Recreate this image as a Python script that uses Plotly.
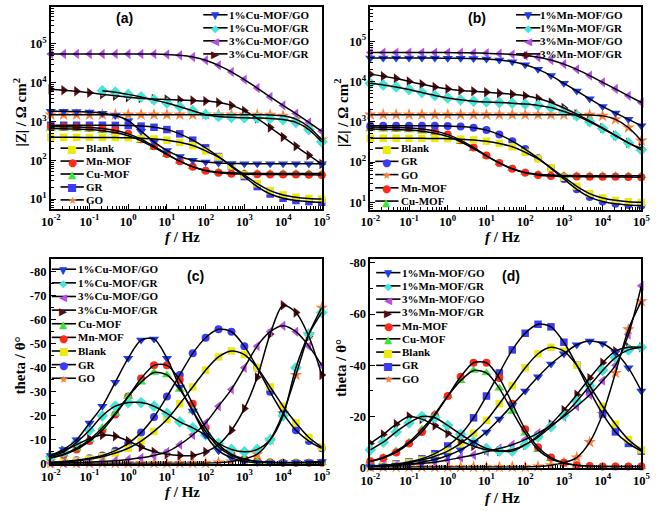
import plotly.graph_objects as go

# ---------------- data ----------------
freq_hz = [0.01, 0.0215, 0.0464, 0.1, 0.215, 0.464, 1, 2.15, 4.64, 10, 21.5, 46.4,
           100, 215, 464, 1000, 2150, 4640, 10000, 21500, 46400, 100000]

# |Z| (ohm cm2) - common samples
z_blank = [390, 390, 390, 389, 388, 385, 380, 370, 355, 330, 290, 240, 175, 120, 72, 42, 25, 16.5, 12.8, 11.2, 10.4, 10]
z_gr = [800, 800, 800, 800, 800, 795, 785, 760, 710, 620, 480, 330, 210, 125, 70, 38, 21, 13.5, 10.5, 9.2, 8.6, 8.3]
z_mn = [740, 735, 725, 700, 660, 590, 480, 350, 230, 145, 95, 68, 54, 48, 45, 44, 43.5, 43, 43, 43, 42.5, 42]
z_cu = [660, 650, 640, 620, 580, 520, 430, 320, 215, 140, 95, 68, 55, 50, 47.5, 46.5, 46, 46, 46, 46, 46, 46]
z_go = [1500, 1500, 1500, 1500, 1500, 1500, 1500, 1500, 1500, 1500, 1500, 1500, 1500, 1500, 1500, 1500, 1495, 1480, 1400, 1150, 720, 340]
# |Z| Cu-MOF composites (a)
z_cu_1go = [1850, 1830, 1800, 1750, 1640, 1420, 1050, 560, 300, 180, 125, 100, 90, 85, 83, 82, 82, 82, 82, 82, 82, 82]
z_cu_1gr = [None, None, None, None, 6200, 5700, 5000, 4300, 3600, 3000, 2400, 1900, 1500, 1350, 1280, 1250, 1230, 1200, 1120, 950, 620, 300]
z_cu_3go = [55000, 55000, 55000, 55000, 55000, 55000, 55000, 55000, 54500, 53500, 51000, 46000, 38000, 28000, 19000, 12000, 7300, 4300, 2600, 1600, 950, 560]
z_cu_3gr = [6800, 6400, 6000, 5500, 5000, 4600, 4200, 4000, 3800, 3700, 3600, 3500, 3350, 3100, 2600, 1900, 1200, 700, 400, 230, 135, 80]
# |Z| Mn-MOF composites (b)
z_mn_1go = [38000, 38000, 38000, 38000, 38000, 38000, 37800, 37500, 37000, 36000, 34000, 31000, 26000, 20000, 14000, 9000, 5800, 3700, 2400, 1650, 1150, 800]
z_mn_1gr = [9000, 8200, 7300, 6300, 5300, 4500, 3900, 3500, 3250, 3100, 3000, 2900, 2750, 2550, 2250, 1800, 1400, 1000, 680, 450, 300, 200]
z_mn_3go = [52000, 52000, 52000, 52000, 52000, 52000, 52000, 51500, 51000, 50000, 49000, 47000, 44000, 40000, 34000, 27000, 20000, 14000, 9500, 6500, 4400, 3000]
z_mn_3gr = [15000, 13500, 11800, 10000, 8500, 7300, 6500, 6000, 5700, 5400, 5100, 4800, 4400, 3800, 3000, 2200, 1550, 1050, 700, 460, 300, 220]

# phase angle (deg)
th_blank = [-0.5, -0.8, -1.2, -2, -3, -4.5, -6.5, -9.5, -13.5, -18.5, -25, -32, -39, -44.5, -47, -45.5, -40, -32, -24, -17, -11, -7]
th_gr = [-0.7, -1, -1.5, -2.3, -3.5, -5.5, -8.5, -13, -19.5, -28, -37, -46, -52.5, -56, -55, -49, -40, -30, -21, -14, -9.5, -6.5]
th_mn = [-2.5, -3.8, -6, -9.5, -14, -20.5, -28, -35.5, -41, -41, -35, -25, -15, -8, -4, -2, -1, -0.7, -0.5, -0.5, -0.5, -0.5]
th_cu = [-2.5, -4, -6.5, -10, -15, -21, -28, -34, -38, -37, -31, -22, -13.5, -7, -3.5, -1.8, -1, -0.7, -0.5, -0.5, -0.5, -0.5]
th_go = [-0.3, -0.3, -0.3, -0.3, -0.3, -0.3, -0.3, -0.3, -0.3, -0.3, -0.3, -0.3, -0.3, -0.5, -1, -2, -4, -10, -21, -37, -54, -65]
th_cu_1go = [-3.5, -6, -10, -17, -24, -34, -44, -51.5, -52, -44, -32, -22, -12, -5.5, -2.5, -1, -0.6, -0.5, -0.5, -0.6, -0.8, -1]
th_cu_1gr = [-3, -5, -9, -14, -20, -24, -25.5, -25.5, -24, -21, -17.5, -15, -12, -8.5, -6, -5, -6, -10, -20, -40, -54, -63]
th_cu_3go = [-0.3, -0.4, -0.5, -0.7, -1, -1.3, -1.8, -2.5, -3.5, -5, -8, -12, -17, -24, -31, -40, -49, -55, -57.5, -55, -49, -41]
th_cu_3gr = [-3.5, -5.5, -8, -10.5, -12, -11.5, -9.5, -7, -5, -4, -3.5, -3.5, -5, -8, -14, -23, -36, -54, -66, -63, -53, -37]
th_mn_1go = [-0.5, -0.7, -1, -1.5, -2.2, -3.2, -4.8, -7, -10, -14, -19, -24.5, -30, -35.5, -40.5, -44.5, -48, -49.5, -48.5, -45, -39, -30]
th_mn_1gr = [-7, -10, -14, -17.5, -20, -19.5, -16.5, -13, -10, -7.5, -6.5, -6.5, -9, -12, -16, -20.5, -26, -32, -38, -43, -46, -47]
th_mn_3go = [-0.5, -0.7, -1, -1.3, -1.7, -2.2, -3, -4, -5, -6.3, -7.5, -9, -11, -13.5, -16.5, -20, -24, -28.5, -34, -40, -52, -71]
th_mn_3gr = [-9.5, -13, -17, -20, -19, -16.5, -13.5, -10.5, -8.5, -7, -6.5, -7, -9, -12.5, -17, -22.5, -28.5, -35, -41, -45.5, -47, -47]

x_tickvals = [0.01, 0.1, 1, 10, 100, 1000, 10000, 100000]
x_ticktext = ["10<sup>-2</sup>", "10<sup>-1</sup>", "10<sup>0</sup>", "10<sup>1</sup>",
              "10<sup>2</sup>", "10<sup>3</sup>", "10<sup>4</sup>", "10<sup>5</sup>"]
z_tickvals = [10, 100, 1000, 10000, 100000]
z_ticktext = ["10<sup>1</sup>", "10<sup>2</sup>", "10<sup>3</sup>", "10<sup>4</sup>", "10<sup>5</sup>"]
thc_tickvals = [-80, -70, -60, -50, -40, -30, -20, -10, 0]
thc_ticktext = ["-80", "-70", "-60", "-50", "-40", "-30", "-20", "-10", "0"]
thd_tickvals = [-80, -60, -40, -20, 0]
thd_ticktext = ["-80", "-60", "-40", "-20", "0"]

# ---------------- styles ----------------
C_1GO = "#1e3cf2"
C_1GR = "#45e6d6"
C_3GO = "#b650e6"
C_3GR = "#5a0a12"
C_MN = "#ff2a1a"
C_CU = "#3ce43c"
C_BLANK = "#eaea10"
C_GR = "#3c3cf8"
C_GO = "#ff8038"

GLYPH = {"triangle-down": "▼", "diamond": "◆", "triangle-left": "◀", "triangle-right": "▶",
         "circle": "●", "triangle-up": "▲", "square": "■", "star": "★"}

W, H = 661, 514
def px(x):
    return x / W
def py(y):
    return 1 - y / H

series = {
    "a": [("1%Cu-MOF/GO", z_cu_1go, "triangle-down", C_1GO),
          ("1%Cu-MOF/GR", z_cu_1gr, "diamond", C_1GR),
          ("3%Cu-MOF/GO", z_cu_3go, "triangle-left", C_3GO),
          ("3%Cu-MOF/GR", z_cu_3gr, "triangle-right", C_3GR),
          ("Blank", z_blank, "square", C_BLANK),
          ("Mn-MOF", z_mn, "circle", C_MN),
          ("Cu-MOF", z_cu, "triangle-up", C_CU),
          ("GR", z_gr, "square", C_GR),
          ("GO", z_go, "star", C_GO)],
    "b": [("1%Mn-MOF/GO", z_mn_1go, "triangle-down", C_1GO),
          ("1%Mn-MOF/GR", z_mn_1gr, "diamond", C_1GR),
          ("3%Mn-MOF/GO", z_mn_3go, "triangle-left", C_3GO),
          ("3%Mn-MOF/GR", z_mn_3gr, "triangle-right", C_3GR),
          ("Blank", z_blank, "square", C_BLANK),
          ("GR", z_gr, "circle", C_GR),
          ("GO", z_go, "star", C_GO),
          ("Mn-MOF", z_mn, "circle", C_MN),
          ("Cu-MOF", z_cu, "triangle-up", C_CU)],
    "c": [("1%Cu-MOF/GO", th_cu_1go, "triangle-down", C_1GO),
          ("1%Cu-MOF/GR", th_cu_1gr, "diamond", C_1GR),
          ("3%Cu-MOF/GO", th_cu_3go, "triangle-left", C_3GO),
          ("3%Cu-MOF/GR", th_cu_3gr, "triangle-right", C_3GR),
          ("Cu-MOF", th_cu, "triangle-up", C_CU),
          ("Mn-MOF", th_mn, "circle", C_MN),
          ("Blank", th_blank, "square", C_BLANK),
          ("GR", th_gr, "circle", C_GR),
          ("GO", th_go, "star", C_GO)],
    "d": [("1%Mn-MOF/GO", th_mn_1go, "triangle-down", C_1GO),
          ("1%Mn-MOF/GR", th_mn_1gr, "diamond", C_1GR),
          ("3%Mn-MOF/GO", th_mn_3go, "triangle-left", C_3GO),
          ("3%Mn-MOF/GR", th_mn_3gr, "triangle-right", C_3GR),
          ("Mn-MOF", th_mn, "circle", C_MN),
          ("Cu-MOF", th_cu, "triangle-up", C_CU),
          ("Blank", th_blank, "square", C_BLANK),
          ("GR", th_gr, "square", C_GR),
          ("GO", th_go, "star", C_GO)],
}
axes_of = {"a": ("x", "y"), "b": ("x2", "y2"), "c": ("x3", "y3"), "d": ("x4", "y4")}

fig = go.Figure()
SIZE = {"star": 9.5, "diamond": 9, "circle": 8, "square": 7.5, "triangle-up": 9,
        "triangle-down": 9, "triangle-left": 9, "triangle-right": 9}
for key, lst in series.items():
    xa, ya = axes_of[key]
    for name, vals, sym, col in lst[::-1]:
        fig.add_trace(go.Scatter(x=freq_hz, y=vals, mode="markers", name=name, showlegend=False,
                                 xaxis=xa, yaxis=ya, cliponaxis=False,
                                 marker=dict(symbol=sym, size=SIZE[sym], color=col, line=dict(width=0))))
    for name, vals, sym, col in lst[::-1]:
        fig.add_trace(go.Scatter(x=freq_hz, y=vals, mode="lines", name=name + " fit", showlegend=False,
                                 xaxis=xa, yaxis=ya, hoverinfo="skip",
                                 line=dict(color="black", width=1.5, shape="spline", smoothing=0.8)))

tickfont = dict(family="Liberation Serif", size=12.5, color="black", weight="bold")
base = dict(showline=True, linecolor="black", linewidth=1.5, mirror=True, ticks="inside",
            ticklen=5, tickwidth=1.2, tickcolor="black", showgrid=False, zeroline=False,
            tickfont=tickfont)
logx = dict(base, type="log", range=[-2, 5], tickmode="array", tickvals=x_tickvals, ticktext=x_ticktext,
            minor=dict(ticks="inside", ticklen=3, tickcolor="black", dtick="D1", showgrid=False))
logy = dict(base, type="log", tickmode="array", tickvals=z_tickvals, ticktext=z_ticktext,
            minor=dict(ticks="inside", ticklen=3, tickcolor="black", dtick="D1", showgrid=False))

fig.update_layout(
    width=W, height=H, margin=dict(l=0, r=0, t=0, b=0),
    paper_bgcolor="white", plot_bgcolor="white", showlegend=False,
    xaxis=dict(logx, domain=[px(42), px(321)], anchor="y"),
    yaxis=dict(logy, domain=[py(210), py(4)], anchor="x", range=[0.747, 5.953]),
    xaxis2=dict(logx, domain=[px(371), px(650)], anchor="y2"),
    yaxis2=dict(logy, domain=[py(210.7), py(4)], anchor="x2", range=[0.82, 5.85]),
    xaxis3=dict(logx, domain=[px(42), px(321)], anchor="y3"),
    yaxis3=dict(base, domain=[py(470), py(261)], anchor="x3", range=[0, -85.3], tickmode="array",
                tickvals=thc_tickvals, ticktext=thc_ticktext,
                minor=dict(ticks="inside", ticklen=3, tickcolor="black", dtick=5, tick0=0)),
    xaxis4=dict(logx, domain=[px(371), px(650)], anchor="y4"),
    yaxis4=dict(base, domain=[py(474), py(261)], anchor="x4", range=[0, -81.5], tickmode="array",
                tickvals=thd_tickvals, ticktext=thd_ticktext,
                minor=dict(ticks="inside", ticklen=3, tickcolor="black", dtick=10, tick0=0)),
)

shapes = []
annotations = []

def legend(entries, xl0, xl1, xt, y0, dy):
    for i, (name, vals, sym, col) in enumerate(entries):
        y = y0 + i * dy
        shapes.append(dict(type="line", xref="paper", yref="paper", x0=px(xl0), x1=px(xl1),
                           y0=py(y), y1=py(y), line=dict(color="black", width=1.6)))
        annotations.append(dict(xref="paper", yref="paper", x=px((xl0 + xl1) / 2), y=py(y + 0.5),
                                text=GLYPH[sym], showarrow=False, xanchor="center", yanchor="middle",
                                font=dict(family="DejaVu Sans", size=10.5, color=col)))
        annotations.append(dict(xref="paper", yref="paper", x=px(xt), y=py(y), text="<b>" + name + "</b>",
                                showarrow=False, xanchor="left", yanchor="middle",
                                font=dict(family="Liberation Serif", size=11, color="black")))

A = series["a"]; B = series["b"]
legend(A[:4], 199, 224, 223, 12, 13.3)
legend(A[4:], 52, 76, 76, 148, 13.2)
legend(B[:4], 521, 546, 544, 12, 13.3)
legend(B[4:], 376, 400, 400, 148, 13.5)
legend(series["c"], 43, 68, 68, 271.5, 13.9)
legend(series["d"], 377, 402, 402, 275, 13.5)

def txt(x, y, s, size, family="Liberation Serif", angle=0):
    annotations.append(dict(xref="paper", yref="paper", x=px(x), y=py(y), text=s, showarrow=False,
                            xanchor="center", yanchor="middle", textangle=angle,
                            font=dict(family=family, size=size, color="black")))

# panel labels
txt(118, 15, "<b>(a)</b>", 14, "Liberation Sans")
txt(481, 15, "<b>(b)</b>", 14, "Liberation Sans")
txt(191, 278, "<b>(c)</b>", 14, "Liberation Sans")
txt(516, 278, "<b>(d)</b>", 14, "Liberation Sans")
# axis titles
for xc, yc in [(178, 239), (507, 239), (178, 499), (507, 505)]:
    txt(xc, yc, "<b><i>f</i> / Hz</b>", 15)
txt(10, 112, "<b>|Z| / Ω cm<sup>2</sup></b>", 15, angle=-90)
txt(341, 112, "<b>|Z| / Ω cm<sup>2</sup></b>", 15, angle=-90)
txt(10, 370, "<b>theta / θ°</b>", 15, angle=-90)
txt(341, 372, "<b>theta / θ°</b>", 15, angle=-90)

fig.update_layout(shapes=shapes, annotations=annotations)
fig.write_html("out.html")
